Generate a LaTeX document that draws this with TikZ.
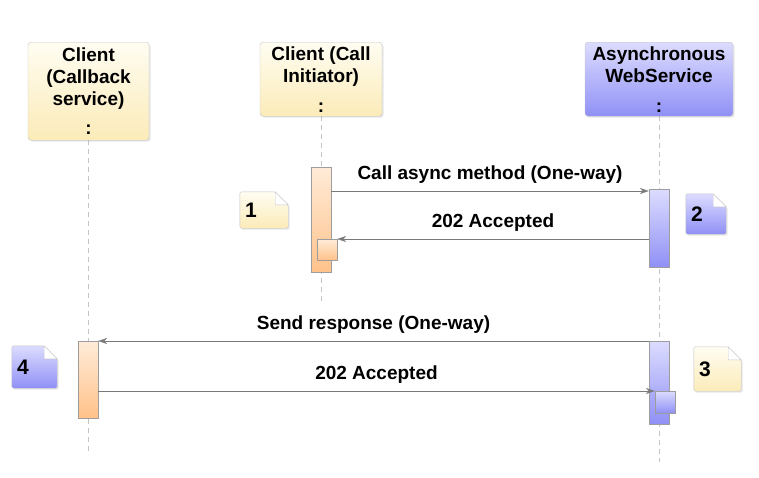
\documentclass[tikz,border=0pt]{standalone}
\usepackage{fontspec}
\setmainfont{Liberation Sans}
\usetikzlibrary{arrows.meta,positioning,shadows,backgrounds}

\definecolor{creamtop}{HTML}{FFFDF2}
\definecolor{creambot}{HTML}{FBEBB8}
\definecolor{bluetop}{HTML}{DCDCFF}
\definecolor{bluebot}{HTML}{9090F6}
\definecolor{orangetop}{HTML}{FFEBD8}
\definecolor{orangebot}{HTML}{FFC28A}
\definecolor{linegray}{HTML}{C4C4C4}
\definecolor{arrowgray}{HTML}{7A7A7A}

\tikzset{
  head/.style={draw=linegray, rounded corners=3pt, anchor=north, align=center,
    font=\bfseries\fontsize{19}{22}\selectfont,
    drop shadow={shadow xshift=1.5pt,shadow yshift=-1.5pt,opacity=.2}},
  creamfill/.style={top color=creamtop, bottom color=creambot},
  bluefill/.style={top color=bluetop, bottom color=bluebot},
  orangefill/.style={top color=orangetop, bottom color=orangebot},
  act/.style={draw=linegray!80!black, minimum width=20pt, inner sep=0pt, anchor=north},
  msg/.style={draw=arrowgray, -{Stealth[length=9pt,width=6pt]}},
  lbl/.style={above=4pt, font=\bfseries\fontsize{19}{22}\selectfont, text=black},
  life/.style={draw=linegray, dash pattern=on 5pt off 4pt},
  notetxt/.style={inner xsep=5pt, inner ysep=0pt, align=left,
    font=\bfseries\fontsize{21}{24}\selectfont}
}

\newcommand{\notepaper}[2]{%
  \path[draw=linegray, #2, rounded corners=1.5pt,
    drop shadow={shadow xshift=1.5pt,shadow yshift=-1.5pt,opacity=.2}]
    (#1.north west) -- ([xshift=-13pt]#1.north east)
    -- ([yshift=-13pt]#1.north east) -- (#1.south east)
    -- (#1.south west) -- cycle;
  \path[draw=linegray, fill=white]
    ([xshift=-13pt]#1.north east) -- ([xshift=-13pt,yshift=-13pt]#1.north east)
    -- ([yshift=-13pt]#1.north east) -- cycle;}

\begin{document}
\begin{tikzpicture}[x=1pt,y=-1pt]
\useasboundingbox (0,0) rectangle (759,477);

% lifelines
\coordinate (cbend) at (88,455);
\coordinate (iniend) at (321,305);
\coordinate (wsend) at (659,462);
\draw[life] (88,140) -- (cbend);
\draw[life] (321,116) -- (iniend);
\draw[life] (659,116) -- (wsend);

% heads
\node[head, creamfill, minimum width=121pt, minimum height=98pt] (cb) at (88.5,42)
  {Client\\(Callback\\service)\\[7pt]:};
\node[head, creamfill, minimum width=122pt, minimum height=74pt] (ini) at (321,42)
  {Client (Call\\Initiator)\\[8pt]:};
\node[head, bluefill, minimum width=148pt, minimum height=74pt] (ws) at (659,42)
  {Asynchronous\\WebService\\[8pt]:};

% activations
\node[act, orangefill, minimum height=105pt] (ini1) at (321,167) {};
\node[act, orangefill, minimum height=21pt] (ini2) at (327,239) {};
\node[act, bluefill, minimum height=78pt] (ws1) at (659,189) {};
\node[act, bluefill, minimum height=83pt] (ws2) at (659,341) {};
\node[act, bluefill, minimum height=22pt] (ws3) at (665,391) {};
\node[act, orangefill, minimum height=77pt] (cb1) at (88,341) {};

% messages
\coordinate (m1) at ([yshift=-24pt]ini1.north east);
\draw[msg] (m1) -- (m1 -| ws1.west) node[lbl, midway] {Call async method (One-way)};
\draw[msg] (ini2.north east -| ws1.west) -- (ini2.north east) node[lbl, midway] {202 Accepted};
\draw[msg] (ws2.north west) -- (ws2.north west -| cb1.east) node[lbl, midway] {Send response (One-way)};
\draw[msg] (ws3.north west -| cb1.east) -- (ws3.north west) node[lbl, midway] {202 Accepted};

% notes
\node[notetxt, text width=38pt, minimum height=36pt] (note1) at (264,210) {1};
\node[notetxt, text width=30pt, minimum height=40pt] (note2) at (706,214) {2};
\node[notetxt, text width=37pt, minimum height=44pt] (note3) at (717.5,369) {3};
\node[notetxt, text width=35pt, minimum height=42pt] (note4) at (34.5,367) {4};
\begin{scope}[on background layer]
\notepaper{note1}{creamfill}
\notepaper{note2}{bluefill}
\notepaper{note3}{creamfill}
\notepaper{note4}{bluefill}
\end{scope}
\end{tikzpicture}
\end{document}
